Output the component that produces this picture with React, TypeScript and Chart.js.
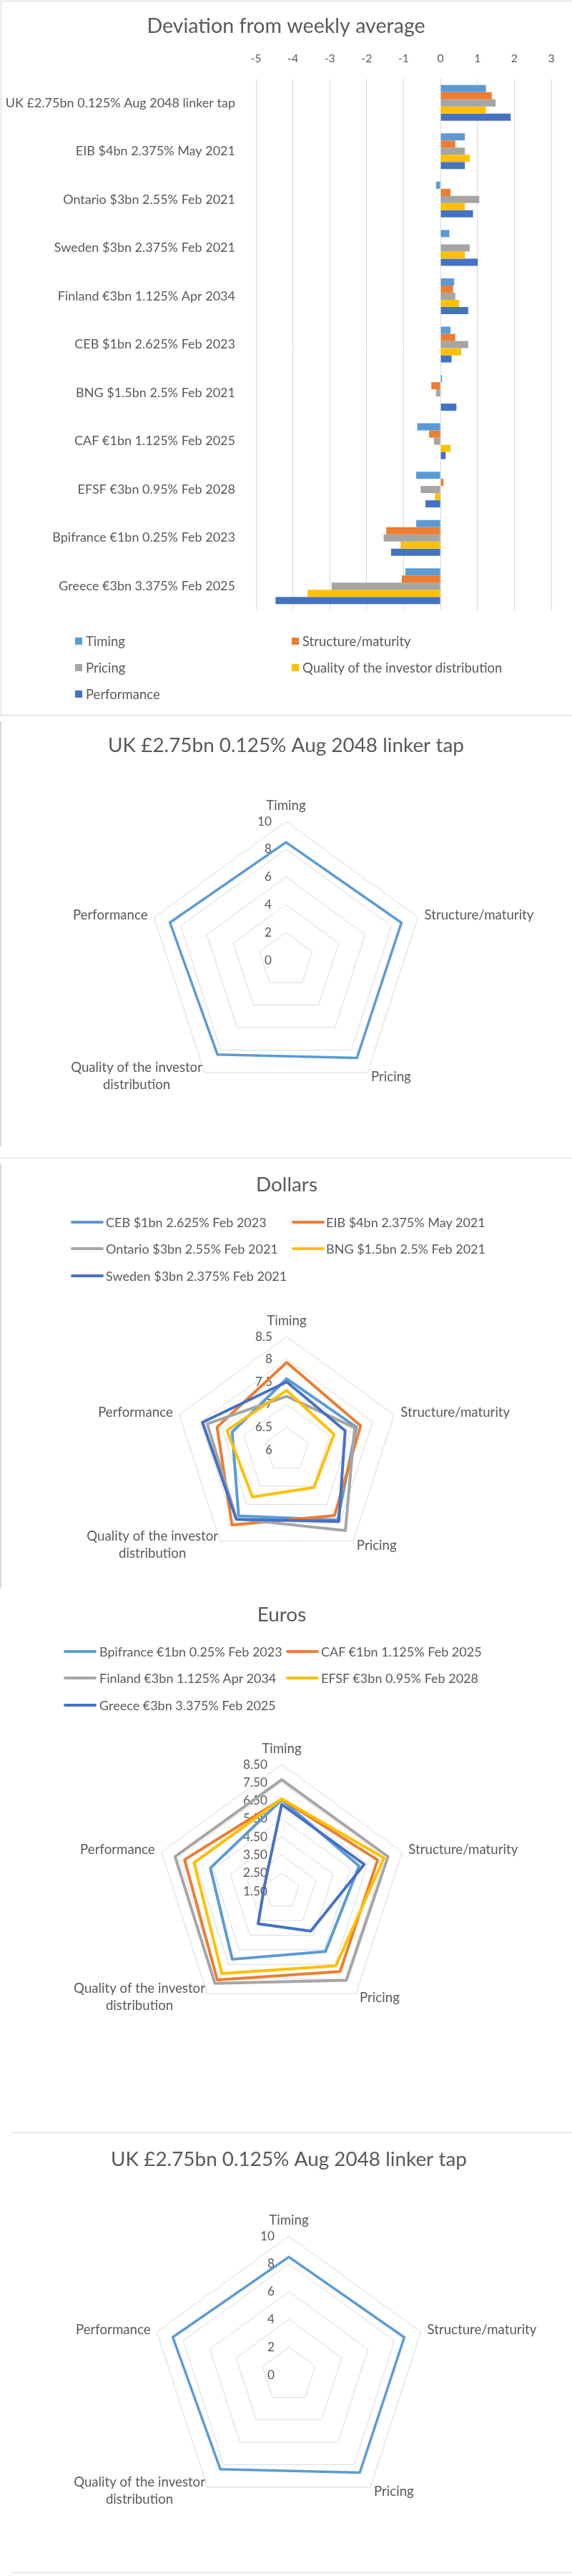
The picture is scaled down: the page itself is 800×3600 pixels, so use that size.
import React, { useEffect, useRef } from 'react';
import { Chart, registerables } from 'chart.js';

Chart.register(...registerables);

const FONT = "Lato, 'Noto Sans', sans-serif";
const TEXT = '#595959';
const GRID = '#d9d9d9';

// ---------------- data ----------------
const issues = [
  'UK £2.75bn 0.125% Aug 2048 linker tap',
  'EIB $4bn 2.375% May 2021',
  'Ontario $3bn 2.55% Feb 2021',
  'Sweden $3bn 2.375% Feb 2021',
  'Finland €3bn 1.125% Apr 2034',
  'CEB $1bn 2.625% Feb 2023',
  'BNG $1.5bn 2.5% Feb 2021',
  'CAF €1bn 1.125% Feb 2025',
  'EFSF €3bn 0.95% Feb 2028',
  'Bpifrance €1bn 0.25% Feb 2023',
  'Greece €3bn 3.375% Feb 2025',
];
const criteria = ['Timing', 'Structure/maturity', 'Pricing', 'Quality of the investor distribution', 'Performance'];
const seriesColors = ['#5b9bd5', '#ed7d31', '#a5a5a5', '#ffc000', '#4472c4'];

const devTiming = [1.23, 0.66, -0.12, 0.24, 0.37, 0.27, 0.04, -0.63, -0.66, -0.66, -0.95];
const devStructure = [1.39, 0.4, 0.27, 0.0, 0.34, 0.4, -0.25, -0.31, 0.08, -1.47, -1.05];
const devPricing = [1.49, 0.66, 1.05, 0.79, 0.4, 0.75, -0.12, -0.18, -0.54, -1.54, -2.95];
const devQuality = [1.23, 0.79, 0.66, 0.66, 0.5, 0.56, 0.0, 0.27, -0.15, -1.08, -3.6];
const devPerformance = [1.9, 0.66, 0.88, 1.01, 0.75, 0.3, 0.43, 0.14, -0.41, -1.34, -4.47];
const devTicks = [-5, -4, -3, -2, -1, 0, 1, 2, 3];

const radarAxes: (string | string[])[] = ['Timing', 'Structure/maturity', 'Pricing', ['Quality of the investor', 'distribution'], 'Performance'];

const ukTitle = 'UK £2.75bn 0.125% Aug 2048 linker tap';
const ukScores = [8.5, 8.75, 8.7, 8.4, 8.8];
const ukTicks = [0, 2, 4, 6, 8, 10];

const dollarNames = [
  'CEB $1bn 2.625% Feb 2023',
  'EIB $4bn 2.375% May 2021',
  'Ontario $3bn 2.55% Feb 2021',
  'BNG $1.5bn 2.5% Feb 2021',
  'Sweden $3bn 2.375% Feb 2021',
];
const cebScores = [7.57, 7.62, 7.92, 7.81, 7.27];
const eibScores = [7.93, 7.72, 7.8, 8.06, 7.62];
const ontarioScores = [7.18, 7.58, 8.21, 7.89, 7.85];
const bngScores = [7.31, 7.1, 7.03, 7.29, 7.39];
const swedenScores = [7.5, 7.36, 7.96, 7.9, 7.96];
const dollarTicks = [6, 6.5, 7, 7.5, 8, 8.5];

const euroNames = [
  'Bpifrance €1bn 0.25% Feb 2023',
  'CAF €1bn 1.125% Feb 2025',
  'Finland €3bn 1.125% Apr 2034',
  'EFSF €3bn 0.95% Feb 2028',
  'Greece €3bn 3.375% Feb 2025',
];
const bpiScores = [6.55, 6.0, 5.62, 6.15, 5.65];
const cafScores = [6.58, 7.08, 6.99, 7.56, 7.15];
const finlandScores = [7.66, 7.68, 7.58, 7.79, 7.7];
const efsfScores = [6.6, 7.45, 6.6, 7.12, 6.6];
const greeceScores = [6.3, 6.3, 4.23, 3.72, 2.5];
const euroTicks = [1.5, 2.5, 3.5, 4.5, 5.5, 6.5, 7.5, 8.5];

// ---------------- font sizing (match reference text widths) ----------------
let measureCtx: CanvasRenderingContext2D | null = null;
function fitSize(text: string, target: number): number {
  if (!measureCtx) measureCtx = document.createElement('canvas').getContext('2d');
  const c = measureCtx as CanvasRenderingContext2D;
  c.font = `100px ${FONT}`;
  const w = c.measureText(text).width;
  return Math.round(((100 * target) / w) * 10) / 10;
}
let sizesCache: any = null;
function sizes() {
  if (!sizesCache) {
    const point =
      (fitSize('Structure/maturity', 154) + fitSize('Performance', 104) + fitSize('Quality of the investor', 183)) / 3;
    sizesCache = {
      barTitle: fitSize('Deviation from weekly average', 390),
      barLabel: fitSize('UK £2.75bn 0.125% Aug 2048 linker tap', 322),
      barLegend: fitSize('Quality of the investor distribution', 280),
      barTick: fitSize('-5', 15),
      radarTitle: fitSize('UK £2.75bn 0.125% Aug 2048 linker tap', 498),
      point,
      radarLegend: (fitSize('Sweden $3bn 2.375% Feb 2021', 252) + fitSize('Finland €3bn 1.125% Apr 2034', 249)) / 2,
      tick: fitSize('8.50', 34),
    };
  }
  return sizesCache;
}

type LegendItem = { label: string; color: string };

function HtmlLegend(props: {
  items: LegendItem[];
  markerX: number[];
  textX: number[];
  rowY: number[];
  kind: 'box' | 'line';
  fontSize: number;
}) {
  const { items, markerX, textX, rowY, kind, fontSize } = props;
  return (
    <>
      {items.map((it, i) => {
        const col = i % 2;
        const row = Math.floor(i / 2);
        const y = rowY[row];
        const marker =
          kind === 'box' ? (
            <div style={{ position: 'absolute', left: markerX[col], top: y - 5, width: 10, height: 10, background: it.color }} />
          ) : (
            <div
              style={{
                position: 'absolute',
                left: markerX[col],
                top: y - 2,
                width: 46,
                height: 4,
                borderRadius: 2,
                background: it.color,
              }}
            />
          );
        return (
          <React.Fragment key={i}>
            {marker}
            <div
              style={{
                position: 'absolute',
                left: textX[col],
                top: y - 12,
                height: 24,
                lineHeight: '24px',
                fontFamily: FONT,
                fontSize,
                color: TEXT,
                whiteSpace: 'nowrap',
              }}
            >
              {it.label}
            </div>
          </React.Fragment>
        );
      })}
    </>
  );
}

function DeviationChart() {
  const ref = useRef<HTMLCanvasElement>(null);
  const S = sizes();
  useEffect(() => {
    const series = [devTiming, devStructure, devPricing, devQuality, devPerformance];
    const chart = new Chart(ref.current as HTMLCanvasElement, {
      type: 'bar',
      data: {
        labels: issues,
        datasets: criteria.map((c, i) => ({
          label: c,
          data: series[i],
          backgroundColor: seriesColors[i],
          borderWidth: 0,
          categoryPercentage: 0.74,
          barPercentage: 1,
          yAxisID: 'y',
        })),
      },
      options: {
        indexAxis: 'y',
        responsive: false,
        animation: false,
        layout: { padding: { left: 0, right: 0, top: 0, bottom: 147 } },
        plugins: {
          legend: { display: false },
          tooltip: { enabled: false },
          title: {
            display: true,
            text: 'Deviation from weekly average',
            color: TEXT,
            font: { family: FONT, size: S.barTitle, weight: 'normal', lineHeight: 1.2 },
            padding: { top: 37 - (S.barTitle * 1.2) / 2, bottom: 0 },
          },
        },
        scales: {
          x: {
            type: 'linear',
            position: 'top',
            min: devTicks[0],
            max: devTicks[devTicks.length - 1],
            afterBuildTicks: (s: any) => {
              s.ticks = devTicks.map((v) => ({ value: v }));
            },
            grid: { color: GRID, lineWidth: 1, drawTicks: false },
            border: { display: false },
            ticks: { color: TEXT, font: { family: FONT, size: S.barTick, lineHeight: 1.2 }, padding: 28 - S.barTick * 0.6 },
            afterFit: (s: any) => {
              s.height = 110 - 37 - (S.barTitle * 1.2) / 2;
            },
          },
          y: {
            type: 'category',
            position: 'left',
            grid: { display: false },
            border: { display: false },
            ticks: { color: TEXT, font: { family: FONT, size: S.barLabel }, padding: 21, autoSkip: false },
            afterFit: (s: any) => {
              s.width = 358;
            },
          },
          yRight: {
            type: 'category',
            position: 'right',
            grid: { display: false },
            border: { display: false },
            ticks: { display: false },
            afterFit: (s: any) => {
              s.width = 29;
            },
          },
        },
      } as any,
    });
    return () => chart.destroy();
  }, []);
  return (
    <>
      <canvas ref={ref} width={800} height={1000} style={{ position: 'absolute', left: 0, top: 0 }} />
      <HtmlLegend
        items={criteria.map((c, i) => ({ label: c, color: seriesColors[i] }))}
        markerX={[105, 408]}
        textX={[120, 423]}
        rowY={[896, 933, 970]}
        kind="box"
        fontSize={S.barLegend}
      />
    </>
  );
}

type RadarSeries = { label: string; data: number[]; color: string };

function RadarChart(props: {
  title: string;
  titleY: number;
  boxTop: number;
  boxBottom: number;
  cx: number;
  cy: number;
  R: number;
  ticks: number[];
  fmt: (v: number) => string;
  series: RadarSeries[];
  lineWidth: number;
}) {
  const { title, titleY, boxTop, boxBottom, cx, cy, R, ticks, fmt, series, lineWidth } = props;
  const ref = useRef<HTMLCanvasElement>(null);
  const canvasLeft = Math.max(0, 2 * cx - 800);
  const canvasWidth = 2 * Math.min(cx, 800 - cx);
  const canvasHeight = boxBottom - boxTop;
  useEffect(() => {
    const S = sizes();
    const lh = S.radarTitle * 1.2;
    const rcy = cy - boxTop;
    const padTop = titleY - boxTop - lh / 2;
    const padBottom = rcy - R - padTop - lh;
    const n = series.length;
    const textPlugin = {
      id: 'radarText',
      beforeDatasetsDraw(chart: any) {
        const s = chart.scales.r;
        const ctx = chart.ctx;
        ctx.save();
        ctx.font = `${S.tick}px ${FONT}`;
        ctx.fillStyle = TEXT;
        ctx.textAlign = 'right';
        ctx.textBaseline = 'middle';
        s.ticks.forEach((t: any) => {
          const y = s.yCenter - s.getDistanceFromCenterForValue(t.value);
          ctx.fillText(fmt(t.value), s.xCenter - 20, y);
        });
        ctx.restore();
      },
      afterDraw(chart: any) {
        const s = chart.scales.r;
        const ctx = chart.ctx;
        ctx.save();
        ctx.font = `${S.point}px ${FONT}`;
        ctx.fillStyle = TEXT;
        ctx.textBaseline = 'middle';
        const labels = chart.data.labels as (string | string[])[];
        labels.forEach((lab, i) => {
          const p = s.getPointPosition(i, s.drawingArea);
          if (Array.isArray(lab)) {
            const w = Math.max(...lab.map((l) => ctx.measureText(l).width));
            const x = p.x - 3 - w / 2;
            ctx.textAlign = 'center';
            lab.forEach((l, k) => ctx.fillText(l, x, p.y - 7 + k * 24));
            return;
          }
          if (i === 0) {
            ctx.textAlign = 'center';
            ctx.fillText(lab, p.x, p.y - 22);
          } else if (i === 1) {
            ctx.textAlign = 'left';
            ctx.fillText(lab, p.x + 9, p.y - 3);
          } else if (i === 2) {
            ctx.textAlign = 'left';
            ctx.fillText(lab, p.x + 5, p.y + 6);
          } else {
            ctx.textAlign = 'right';
            ctx.fillText(lab, p.x - 9, p.y - 3);
          }
        });
        ctx.restore();
      },
    };
    const chart = new Chart(ref.current as HTMLCanvasElement, {
      type: 'radar',
      data: {
        labels: radarAxes,
        datasets: series.map((d, i) => ({
          label: d.label,
          data: d.data,
          borderColor: d.color,
          backgroundColor: d.color,
          borderWidth: lineWidth,
          fill: false,
          pointRadius: 0,
          pointHoverRadius: 0,
          tension: 0,
          borderJoinStyle: 'round',
          order: n - i,
        })),
      },
      options: {
        responsive: false,
        animation: false,
        layout: { padding: { left: 0, right: 0, top: 0, bottom: canvasHeight - (rcy + R) } },
        plugins: {
          legend: { display: false },
          tooltip: { enabled: false },
          title: {
            display: true,
            text: title,
            color: TEXT,
            font: { family: FONT, size: S.radarTitle, weight: 'normal', lineHeight: 1.2 },
            padding: { top: padTop, bottom: padBottom },
          },
        },
        scales: {
          r: {
            min: ticks[0],
            max: ticks[ticks.length - 1],
            afterBuildTicks: (s: any) => {
              s.ticks = ticks.map((v) => ({ value: v }));
            },
            ticks: { display: false },
            grid: { color: GRID, lineWidth: 1 },
            angleLines: { display: false },
            pointLabels: { display: false },
          },
        },
      } as any,
      plugins: [textPlugin],
    });
    return () => chart.destroy();
  }, []);
  return (
    <canvas
      ref={ref}
      width={canvasWidth}
      height={canvasHeight}
      style={{ position: 'absolute', left: canvasLeft, top: boxTop }}
    />
  );
}

function Line(props: { left: number; top: number; width: number; height: number }) {
  return <div style={{ position: 'absolute', background: GRID, ...props }} />;
}

export default function App() {
  useEffect(() => {
    document.body.style.margin = '0';
  }, []);
  const S = sizes();
  const dollarSeries = [cebScores, eibScores, ontarioScores, bngScores, swedenScores].map((d, i) => ({
    label: dollarNames[i],
    data: d,
    color: seriesColors[i],
  }));
  const euroSeries = [bpiScores, cafScores, finlandScores, efsfScores, greeceScores].map((d, i) => ({
    label: euroNames[i],
    data: d,
    color: seriesColors[i],
  }));
  return (
    <div style={{ position: 'relative', width: 800, height: 3600, overflow: 'hidden', background: '#fff' }}>
      <Line left={1} top={1} width={799} height={1} />
      <Line left={1} top={1} width={1} height={998} />
      <Line left={0} top={999} width={800} height={1} />
      <Line left={0} top={1008} width={2} height={594} />
      <Line left={0} top={1618} width={800} height={1} />
      <Line left={0} top={1626} width={2} height={594} />
      <Line left={15} top={2980} width={785} height={1} />
      <Line left={15} top={3595} width={785} height={1} />

      <DeviationChart />

      <RadarChart
        title={ukTitle}
        titleY={1042}
        boxTop={1001}
        boxBottom={1618}
        cx={400}
        cy={1342}
        R={194}
        ticks={ukTicks}
        fmt={(v) => String(v)}
        series={[{ label: ukTitle, data: ukScores, color: seriesColors[0] }]}
        lineWidth={3.5}
      />

      <RadarChart
        title="Dollars"
        titleY={1656}
        boxTop={1619}
        boxBottom={2220}
        cx={401}
        cy={2026}
        R={158}
        ticks={dollarTicks}
        fmt={(v) => String(v)}
        series={dollarSeries}
        lineWidth={4}
      />
      <HtmlLegend
        items={dollarSeries.map((s) => ({ label: s.label, color: s.color }))}
        markerX={[99, 408]}
        textX={[148, 456]}
        rowY={[1708, 1745, 1783]}
        kind="line"
        fontSize={S.radarLegend}
      />

      <RadarChart
        title="Euros"
        titleY={2257}
        boxTop={2220}
        boxBottom={2980}
        cx={394}
        cy={2643}
        R={177}
        ticks={euroTicks}
        fmt={(v) => v.toFixed(2)}
        series={euroSeries}
        lineWidth={4}
      />
      <HtmlLegend
        items={euroSeries.map((s) => ({ label: s.label, color: s.color }))}
        markerX={[89, 400]}
        textX={[139, 449]}
        rowY={[2308, 2345, 2383]}
        kind="line"
        fontSize={S.radarLegend}
      />

      <RadarChart
        title={ukTitle}
        titleY={3018}
        boxTop={2981}
        boxBottom={3595}
        cx={404}
        cy={3319}
        R={194}
        ticks={ukTicks}
        fmt={(v) => String(v)}
        series={[{ label: ukTitle, data: ukScores, color: seriesColors[0] }]}
        lineWidth={3.5}
      />
    </div>
  );
}
